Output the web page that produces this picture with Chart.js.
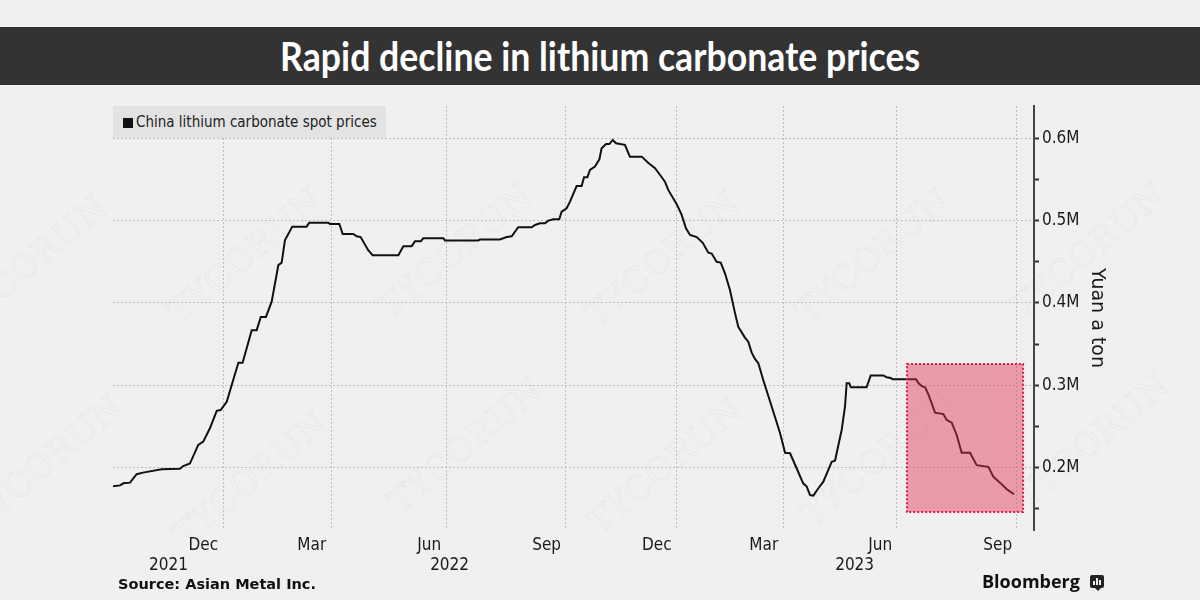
<!DOCTYPE html>
<html>
<head>
<meta charset="utf-8">
<script src="https://cdn.jsdelivr.net/npm/chart.js@4.4.0/dist/chart.umd.min.js"></script>
<style>
  html, body { margin:0; padding:0; background:#f0f0f0; }
  #wrap { position:relative; width:1200px; height:600px; background:#f0f0f0; overflow:hidden; }
  #c { position:absolute; left:0; top:0; }
  .wm { position:absolute; font-family:"DejaVu Serif", serif; font-size:34px; letter-spacing:1px; color:transparent;
    -webkit-text-stroke:1px rgba(0,0,0,0.05); transform:translate(-50%,-50%) rotate(-40deg); white-space:nowrap; }
  #titlebar { position:absolute; left:0; top:27px; width:1200px; height:58px; background:#333333;
    display:flex; align-items:center; justify-content:center; }
  #title { display:inline-block; color:#fff; font-family:Lato, "Open Sans", sans-serif; font-weight:700;
    font-size:40px; line-height:58px; white-space:nowrap; transform-origin:center center; }
  #legend { position:absolute; left:113px; top:106px; width:273px; height:32px; background:#e3e3e3; }
  #legend .sq { position:absolute; left:10px; top:12px; width:10px; height:10px; background:#111; }
  #legend .tx { position:absolute; left:23px; top:0; line-height:32px; font-family:"DejaVu Sans Condensed","DejaVu Sans",sans-serif;
    font-size:15px; color:#222; white-space:nowrap; }
  #source { position:absolute; left:118px; top:576px; font-family:"DejaVu Sans",sans-serif; font-weight:bold; font-size:14.5px; color:#111; white-space:nowrap; }
  #bbg { position:absolute; left:982px; top:569px; font-family:"Open Sans",Lato,sans-serif; font-weight:700; font-size:18px; color:#111; white-space:nowrap; }
  #bicon { position:absolute; left:1090px; top:575px; width:14px; height:13px; background:#222; border-radius:2px; }
  #bicon:after { content:""; position:absolute; left:5px; top:13px; border-left:3px solid transparent; border-right:3px solid transparent; border-top:3px solid #222; }
  #bicon i { position:absolute; bottom:3px; width:2px; background:#f0f0f0; }
</style>
</head>
<body>
<div id="wrap">
  <div class="wm" style="left:30px;top:262px">TYCORUN</div>
  <div class="wm" style="left:245px;top:255px">TYCORUN</div>
  <div class="wm" style="left:455px;top:250px">TYCORUN</div>
  <div class="wm" style="left:662px;top:258px">TYCORUN</div>
  <div class="wm" style="left:872px;top:255px">TYCORUN</div>
  <div class="wm" style="left:1088px;top:250px">TYCORUN</div>
  <div class="wm" style="left:45px;top:462px">TYCORUN</div>
  <div class="wm" style="left:250px;top:478px">TYCORUN</div>
  <div class="wm" style="left:465px;top:445px">TYCORUN</div>
  <div class="wm" style="left:665px;top:465px">TYCORUN</div>
  <div class="wm" style="left:878px;top:458px">TYCORUN</div>
  <div class="wm" style="left:1092px;top:440px">TYCORUN</div>
  <canvas id="c" width="1200" height="600"></canvas>
  <div id="titlebar"><span id="title">Rapid decline in lithium carbonate prices</span></div>
  <div id="legend"><span class="sq"></span><span class="tx">China lithium carbonate spot prices</span></div>
  <div id="source">Source: Asian Metal Inc.</div>
  <div id="bbg">Bloomberg</div>
  <div id="bicon"><i style="left:3px;height:4px"></i><i style="left:6px;height:7px"></i><i style="left:9px;height:5px"></i></div>
</div>
<script>
// ---- Data (x = trading-session index from start of series, y = yuan per ton) ----
const sessionIdx = [0,3.8,5.6,9.2,12.8,16.2,26.3,36.2,38.0,41.6,46.1,48.8,52.4,56.1,58.2,61.5,65.0,67.8,70.1,75.0,77.7,79.9,82.7,85.8,89.4,91.2,93.0,94.8,96.9,104.7,106.1,116.4,117.3,122.4,124.2,129.9,131.8,133.9,138.0,140.4,154.3,157.0,161.5,163.3,166.4,167.8,178.6,179.5,197.5,198.4,209.2,212.9,215.6,219.1,226.4,228.2,230.9,233.6,235.4,238.1,241.3,242.6,245.3,247.1,250.7,253.4,254.7,256.5,257.9,260.6,263.0,264.2,266.6,268.4,270.2,272.0,276.8,279.5,285.9,289.5,293.1,296.7,298.5,300.3,304.8,307.5,309.8,312.0,315.6,318.9,321.9,323.7,326.4,328.6,330.9,333.6,336.3,338.1,341.7,343.5,345.3,347.1,348.9,351.6,356.2,360.7,363.4,366.1,369.7,373.2,375.1,376.9,378.7,381.4,384.1,388.6,390.4,394.0,395.8,396.7,398.1,399.0,407.5,409.7,416.5,418.3,420.5,421.6,434.2,435.4,437.3,439.1,440.8,444.5,449.0,450.8,453.5,456.2,458.9,463.4,467.0,473.3,476.0,479.6,483.3,487.2];
const priceYuan = [177500,178500,181000,181800,192000,194000,198000,198800,202000,205000,227600,231600,247800,269000,270000,280000,306500,327500,327500,367000,367000,383000,383000,401600,446000,449000,476500,483800,492700,492700,497500,497500,496000,496000,483800,483800,481000,480000,464000,458000,458000,469000,469000,475000,475000,478600,478600,476000,476000,477000,477000,480000,481000,492000,492000,494700,496700,496700,500000,501700,501700,511000,515000,523000,542000,542000,552700,552700,561500,565600,574500,587900,593000,593000,598000,594000,592000,577700,577700,570000,563600,552700,547000,537000,520000,506900,490700,482600,480000,473000,461000,460000,450000,449000,436000,415800,388000,371000,358000,353000,340000,332000,327000,306500,274000,241800,218000,217500,199000,181000,177000,166800,166000,175000,183000,207000,208500,245800,274000,302500,302500,297600,297600,312000,312000,309800,309000,307300,307300,303000,299000,297600,289500,266800,265000,258000,254600,239700,218000,218000,203000,201000,189000,181800,173800,167700];
const seriesName = 'China lithium carbonate spot prices';

// ---- Axis ticks ----
const monthLabels = ['Dec','Mar','Jun','Sep','Dec','Mar','Jun','Sep'];
const monthTickIdx = [59.5,117.9,180.1,244.9,304.7,362.3,423.9,488.8];
const yearLabels = ['2021','2022','2023'];
const yearTickIdx = [30,182,401];
const yTickValues = [150000,200000,250000,300000,350000,400000,450000,500000,550000,600000];
const xRange = [0, 498];
const yRange = [124300, 639200];

// ---- Highlighted region (session range, price range) ----
const highlightX = [429.3, 492.1];
const highlightY = [146200, 325900];

const FONT = '"DejaVu Sans Condensed", "DejaVu Sans", sans-serif';

const highlightPlugin = {
  id: 'highlight',
  afterDatasetsDraw(chart) {
    const {ctx, scales:{x, y}} = chart;
    const x0 = x.getPixelForValue(highlightX[0]), x1 = x.getPixelForValue(highlightX[1]);
    const y0 = y.getPixelForValue(highlightY[1]), y1 = y.getPixelForValue(highlightY[0]);
    ctx.save();
    ctx.fillStyle = 'rgba(228,50,80,0.45)';
    ctx.fillRect(x0, y0, x1 - x0, y1 - y0);
    ctx.strokeStyle = '#d81b4f';
    ctx.lineWidth = 2;
    ctx.setLineDash([2, 2]);
    ctx.strokeRect(x0, y0, x1 - x0, y1 - y0);
    ctx.restore();
  }
};

const points = sessionIdx.map((s, i) => ({x: s, y: priceYuan[i]}));

new Chart(document.getElementById('c'), {
  type: 'line',
  data: { datasets: [{ label: seriesName, data: points, borderColor: '#111', borderWidth: 2,
    pointRadius: 0, tension: 0, fill: false }] },
  options: {
    responsive: false, animation: false, devicePixelRatio: 1,
    layout: { padding: { left: 113, top: 106, right: 80, bottom: 21 } },
    plugins: { legend: { display: false }, tooltip: { enabled: false } },
    scales: {
      x: {
        type: 'linear', position: 'bottom', weight: 0, min: xRange[0], max: xRange[1],
        afterBuildTicks: s => { s.ticks = monthTickIdx.map(v => ({value: v})); },
        afterFit: s => { s.height = 25; },
        ticks: { align: 'end', padding: 5, color: '#1a1a1a', autoSkip: false, maxRotation: 0,
          font: { family: FONT, size: 17 }, callback: (v, i) => monthLabels[i] + ' ' },
        grid: { color: '#bdbdbd', lineWidth: 1, drawTicks: false },
        border: { display: false, dash: [2, 2] }
      },
      xYear: {
        type: 'linear', position: 'bottom', weight: 1, min: xRange[0], max: xRange[1],
        afterBuildTicks: s => { s.ticks = yearTickIdx.map(v => ({value: v})); },
        afterFit: s => { s.height = 24; },
        ticks: { padding: 0, color: '#1a1a1a', autoSkip: false, maxRotation: 0,
          font: { family: FONT, size: 17 }, callback: (v, i) => yearLabels[i] },
        grid: { display: false, drawTicks: false },
        border: { display: false }
      },
      y: {
        type: 'linear', position: 'right', min: yRange[0], max: yRange[1],
        afterBuildTicks: s => { s.ticks = yTickValues.map(v => ({value: v})); },
        afterFit: s => { s.width = 86; },
        ticks: { padding: 3, color: '#1a1a1a', font: { family: FONT, size: 17 },
          callback: v => (v % 100000 === 0 ? (v / 1e6).toFixed(1) + 'M' : '') },
        grid: { color: c => (c.tick && c.tick.value % 100000 === 0 ? '#bdbdbd' : 'rgba(0,0,0,0)'),
          lineWidth: 1, tickColor: '#333', tickLength: 5, tickWidth: 2, tickBorderDash: [] },
        border: { display: true, color: '#444', width: 2, dash: [2, 2] },
        title: { display: true, text: 'Yuan a ton', color: '#1a1a1a',
          font: { family: '"DejaVu Sans", sans-serif', size: 19 }, padding: { top: 12, bottom: 0 } }
      }
    }
  },
  plugins: [highlightPlugin]
});

// fit title width to reference (640px)
const t = document.getElementById('title');
const w = t.getBoundingClientRect().width;
if (w > 0) t.style.transform = 'scaleX(' + (640 / w) + ')';
</script>
</body>
</html>
